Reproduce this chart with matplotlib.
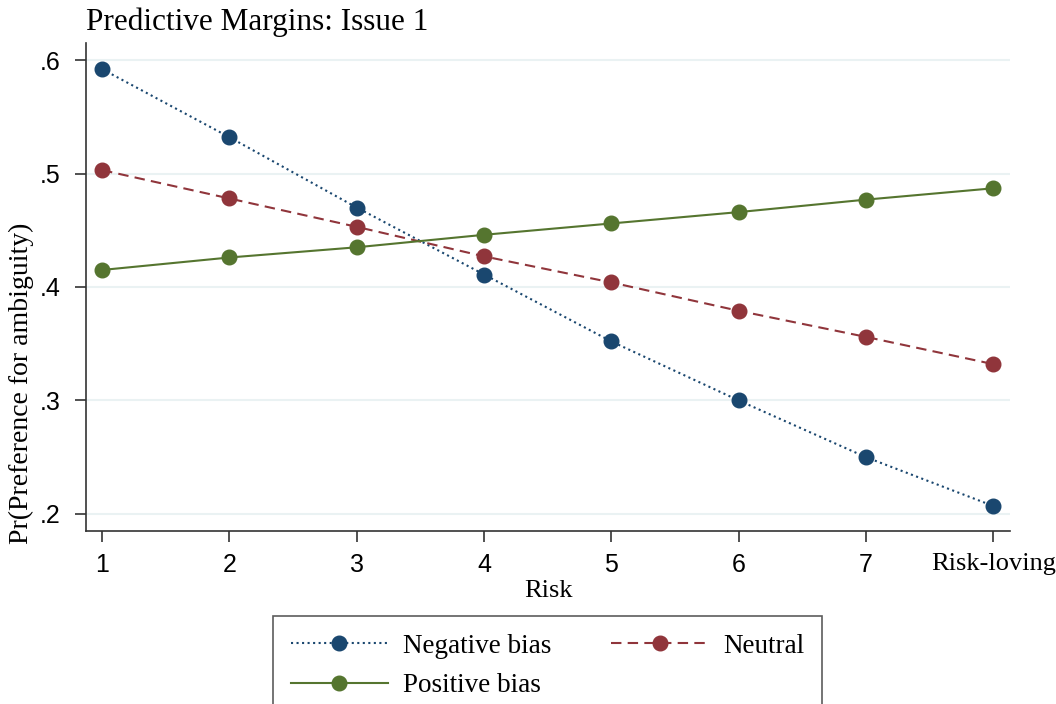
import matplotlib.pyplot as plt

risk = [1, 2, 3, 4, 5, 6, 7, 8]
risk_labels = ['1', '2', '3', '4', '5', '6', '7', 'Risk-loving']
negative_bias = [0.592, 0.532, 0.470, 0.411, 0.352, 0.300, 0.250, 0.207]
neutral = [0.503, 0.478, 0.453, 0.427, 0.404, 0.379, 0.356, 0.332]
positive_bias = [0.415, 0.426, 0.435, 0.446, 0.456, 0.466, 0.477, 0.487]
yticks = [0.2, 0.3, 0.4, 0.5, 0.6]
ytick_labels = ['.2', '.3', '.4', '.5', '.6']

navy = '#1a476f'
maroon = '#90353b'
green = '#55752f'

serif = 'Liberation Serif'
sans = 'Liberation Sans'

fig = plt.figure(figsize=(10.56, 7.04), dpi=100)
ax = fig.add_axes([86/1056, 1-531/704, 924/1056, 488/704])

for y in yticks:
    ax.axhline(y, color='#eaf2f3', linewidth=1.5, zorder=0)

l1, = ax.plot(risk, negative_bias, linestyle=':', color=navy, linewidth=1.5,
              marker='o', markersize=10.5, zorder=3)
l2, = ax.plot(risk, neutral, linestyle=(0, (5, 3)), color=maroon, linewidth=1.5,
              marker='o', markersize=10.5, zorder=3)
l3, = ax.plot(risk, positive_bias, linestyle='-', color=green, linewidth=1.5,
              marker='o', markersize=10.5, zorder=3)

ax.set_xlim(0.874, 8.13)
ax.set_ylim(0.185, 0.615)
ax.set_xticks(risk)
ax.set_xticklabels(risk_labels)
ax.set_yticks(yticks)
ax.set_yticklabels(ytick_labels)
for lab in ax.get_xticklabels() + ax.get_yticklabels():
    lab.set_fontfamily(sans)
    lab.set_fontsize(18)
ax.get_xticklabels()[-1].set_fontfamily(serif)
ax.get_xticklabels()[-1].set_fontsize(19)

for s in ['top', 'right']:
    ax.spines[s].set_visible(False)
for s in ['left', 'bottom']:
    ax.spines[s].set_color('#333333')
    ax.spines[s].set_linewidth(1.2)
ax.tick_params(axis='both', length=8, width=1.2, color='#333333', colors='black')
ax.tick_params(axis='x', pad=8)
ax.tick_params(axis='y', pad=10)

ax.set_xlabel('Risk', fontfamily=serif, fontsize=19, labelpad=2)
ax.set_ylabel('Pr(Preference for ambiguity)', fontfamily=serif, fontsize=20)
ax.yaxis.set_label_coords(-0.056, 0.303)

fig.text(86/1056, 1-22/704, 'Predictive Margins: Issue 1', fontfamily=serif,
         fontsize=22.5, va='center', ha='left')

leg = fig.legend([l1, l3, l2], ['Negative bias', 'Positive bias', 'Neutral'],
                 ncol=2, loc='upper left', bbox_to_anchor=(273/1056, 1-616/704),
                 borderaxespad=0,
                 prop={'family': serif, 'size': 19.5}, frameon=True, fancybox=False,
                 handlelength=3.6, handletextpad=0.55, columnspacing=2.2,
                 labelspacing=0.55, borderpad=0.65)
leg.get_frame().set_edgecolor('#333333')
leg.get_frame().set_linewidth(1.2)

plt.savefig('out.png', dpi=100)
